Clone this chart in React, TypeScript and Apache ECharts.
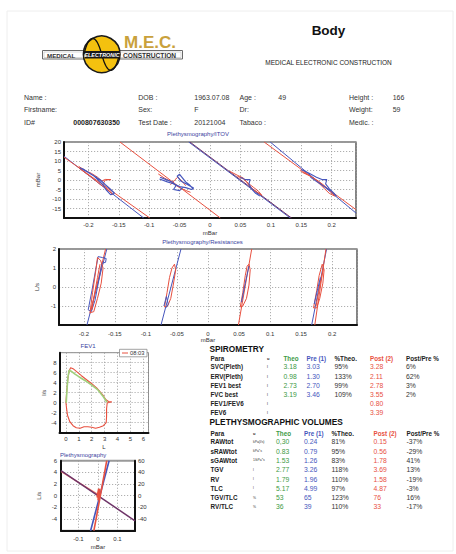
import React, { useEffect, useRef } from 'react';
import * as echarts from 'echarts';

const FONT = '"Liberation Sans", Arial, Helvetica, sans-serif';
const BLUE = '#4656bd';
const RED = '#e8503f';
const GREEN = '#3c9a45';
const PURPLE = '#6e3468';
const INK = '#222';

// ---------- header info ----------
const infoRow1 = ['Name :', 'DOB :', '1963.07.08', 'Age :', '49', 'Height :', '166'];
const infoRow2 = ['Firstname:', 'Sex:', 'F', 'Dr:', '', 'Weight:', '59'];
const infoRow3 = ['ID#', 'Test Date :', '20121004', 'Tabaco :', '', 'Medic. :', ''];
const patientId = '000807630350';

// ---------- spirometry table ----------
const tableHeaders = ['Para', 'u', 'Theo', 'Pre (1)', '%Theo.', 'Post (2)', 'Post/Pre %'];
const spiroParams = ['SVC(Pleth)', 'ERV(Pleth)', 'FEV1 best', 'FVC best', 'FEV1/FEV6', 'FEV6'];
const spiroUnits = ['l', 'l', 'l', 'l', 'l', 'l'];
const spiroTheo = ['3.18', '0.98', '2.73', '3.19', '', ''];
const spiroPre = ['3.03', '1.30', '2.70', '3.46', '', ''];
const spiroPctTheo = ['95%', '133%', '99%', '109%', '', ''];
const spiroPost = ['3.28', '2.11', '2.78', '3.55', '0.80', '3.39'];
const spiroPostPre = ['6%', '62%', '3%', '2%', '', ''];

// ---------- plethysmographic volumes table ----------
const plethParams = ['RAWtot', 'sRAWtot', 'sGAWtot', 'TGV', 'RV', 'TLC', 'TGV/TLC', 'RV/TLC'];
const plethUnits = ['kPa(l/s)', 'kPa*s', '1/kPa*s', 'l', 'l', 'l', '%', '%'];
const plethTheo = ['0,30', '0.83', '1.53', '2.77', '1.79', '5.17', '53', '36'];
const plethPre = ['0.24', '0.79', '1.26', '3.26', '1.96', '4.99', '65', '39'];
const plethPctTheo = ['81%', '95%', '83%', '118%', '110%', '97%', '123%', '110%'];
const plethPost = ['0.15', '0.56', '1.78', '3.69', '1.58', '4.87', '76', '33'];
const plethPostPre = ['-37%', '-29%', '41%', '13%', '-19%', '-3%', '16%', '-17%'];

// ---------- Plethysmography/ITOV (mBar vs mBar) ----------
const itovBlueA = [[-0.24, 12.5], [-0.109, -20]];
const itovRedA = [[-0.24, 12], [-0.099, -20]];
const itovRedB = [[-0.148, 20], [0.017, -20]];
const itovBlueC = [[-0.035, 20], [0.132, -20]];
const itovRedC = [[-0.033, 20], [0.134, -20]];
const itovRedD = [[0.089, 20], [0.24, -15.6]];
const itovBlueD = [[0.099, 20], [0.24, -17.4]];
const itovLoop1Red = [[-0.216, 7.2], [-0.205, 5], [-0.195, 3.5], [-0.185, 1.5], [-0.178, -0.5], [-0.172, 0.3], [-0.163, 0.2], [-0.172, 0], [-0.176, -2], [-0.172, -4.5], [-0.165, -6], [-0.16, -7.5], [-0.168, -5], [-0.18, -2.5], [-0.195, 1.5], [-0.208, 4.5], [-0.216, 6.5]];
const itovLoop1Blue = [[-0.214, 6.5], [-0.2, 4], [-0.19, 2], [-0.182, -0.5], [-0.175, -3], [-0.17, -5.5], [-0.163, -7.8], [-0.157, -7], [-0.165, -4.5], [-0.172, -2.5], [-0.18, 0], [-0.195, 3], [-0.21, 6]];
const itovLoop2Blue = [[-0.083, 0.5], [-0.07, -1], [-0.06, -2], [-0.05, -3.5], [-0.04, -4], [-0.03, -5], [-0.027, -4.2], [-0.038, -2.2], [-0.048, -0.5], [-0.054, 2], [-0.05, 3], [-0.045, 1], [-0.04, -1], [-0.034, -2.5], [-0.028, -4.5]];
const itovLoop2BlueB = [[-0.082, 1.5], [-0.072, 0.2], [-0.062, -1], [-0.056, -3], [-0.06, -5], [-0.05, -5.6], [-0.045, -4]];
const itovLoop2Red = [[-0.085, 3.2], [-0.075, 1], [-0.066, -0.5], [-0.058, -2.5], [-0.05, -4], [-0.04, -5.5], [-0.032, -6.5]];
const itovLoop2RedB = [[-0.065, -2.5], [-0.058, 0], [-0.053, 1.5], [-0.045, -1], [-0.04, -3]];
const itovLoop3Red = [[0.033, 4.5], [0.045, 2.5], [0.055, 1], [0.06, -1], [0.065, -3], [0.07, -5], [0.078, -6.5], [0.085, -8], [0.08, -6], [0.072, -4], [0.064, -2], [0.055, 0.5], [0.045, 2]];
const itovLoop3Blue = [[0.05, 1.5], [0.058, 0.2], [0.066, 0.2], [0.064, -2], [0.068, -4.5], [0.075, -7], [0.082, -8.5]];
const itovLoop4Red = [[0.148, 5], [0.16, 3], [0.17, 1], [0.18, -2], [0.188, -4.5], [0.196, -7], [0.205, -8.5], [0.198, -6], [0.19, -3.5], [0.178, -0.5], [0.165, 2], [0.152, 4]];
const itovLoop4Blue = [[0.15, 5.5], [0.163, 3.5], [0.175, 1.5], [0.184, 0.2], [0.192, 0.2], [0.19, -2], [0.196, -4.5], [0.204, -7], [0.208, -8.6], [0.2, -6], [0.188, -3.5], [0.176, -1], [0.165, 1.5]];

// ---------- Plethysmography/Resistances (L/s vs mBar) ----------
const resBlue1 = [[-0.195, -2], [-0.163, 2]];
const resRed1 = [[-0.19, -1.4], [-0.165, 2]];
const resLoop1Blue = [[-0.193, -1.2], [-0.187, -0.2], [-0.181, 0.9], [-0.177, 1.6], [-0.17, 1.55], [-0.164, 1.5], [-0.165, 1.3], [-0.171, 1.25], [-0.175, 0.5], [-0.182, -0.7], [-0.188, -1.3], [-0.193, -1.2]];
const resLoop1Red = [[-0.19, -1.35], [-0.186, -0.3], [-0.181, 0.8], [-0.178, 1.55], [-0.173, 1.4], [-0.169, 1.0], [-0.172, 0.2], [-0.178, -0.6], [-0.184, -1.3], [-0.19, -1.35]];
const resLoop1RedB = [[-0.187, -1.2], [-0.183, -0.4], [-0.178, 0.5], [-0.174, 1.2]];
const resBlue2 = [[-0.0757, -2], [-0.0435, 2]];
const resLoop2Red = [[-0.07, -1.05], [-0.066, -0.3], [-0.062, 0.5], [-0.058, 1.0], [-0.054, 1.2], [-0.052, 0.9], [-0.056, 0.1], [-0.06, -0.6], [-0.065, -1.0], [-0.07, -1.05]];
const resLoop2Blue = [[-0.071, -1.0], [-0.067, -0.5], [-0.064, -0.9], [-0.068, -1.1]];
const resRed3 = [[0.049, -2], [0.0704, 2]];
const resLoop3Red = [[0.052, -1.05], [0.056, -0.3], [0.06, 0.6], [0.063, 1.1], [0.066, 1.2], [0.068, 0.9], [0.066, 0.1], [0.062, -0.6], [0.056, -1.0], [0.052, -1.05]];
const resLoop3Blue = [[0.054, -0.8], [0.06, 0.2], [0.066, 1.1]];
const resBlue4 = [[0.167, -2], [0.191, 2]];
const resRed4 = [[0.172, -2], [0.19, 2]];
const resLoop4Red = [[0.17, -1.1], [0.175, -0.2], [0.179, 0.6], [0.184, 1.2], [0.187, 0.9], [0.185, 0.2], [0.18, -0.6], [0.175, -1.1], [0.17, -1.1]];
const resLoop4RedB = [[0.174, -1], [0.178, -0.3], [0.182, 0.4], [0.186, 1.0]];
const resLoop4Blue = [[0.171, -0.9], [0.176, -0.2], [0.181, 0.5]];

// ---------- FEV1 flow-volume (l/s vs L) ----------
const fevLegend = '08:03';
const fevMeasured = [[0, 0], [0.05, 2], [0.15, 4.8], [0.25, 6.4], [0.36, 7.0], [0.55, 6.8], [0.83, 6.2], [1.2, 5.4], [1.6, 4.6], [2.0, 3.8], [2.4, 2.9], [2.9, 1.4], [3.1, 0.6], [3.3, 0.25], [3.55, 0.2], [3.4, 0.05], [3.2, 0], [3.15, -1.2], [3.15, -2.7], [3.12, -4.0], [2.9, -4.6], [2.6, -4.9], [2.3, -5.1], [2.0, -4.9], [1.7, -4.8], [1.4, -4.8], [1.1, -5.1], [0.8, -5.0], [0.55, -4.6], [0.3, -3.8], [0.12, -2.5], [0.05, -1.2], [0, 0]];
const fevPredicted = [[0.02, 0], [0.08, 2.5], [0.15, 5], [0.25, 6.5], [0.4, 6.3], [0.7, 5.7], [1.0, 5.2], [1.5, 4.4], [2.0, 3.5], [2.5, 2.5], [2.9, 1.2], [3.1, 0.4], [3.2, 0.1]];

// ---------- Plethysmography (L/s left, mBar right) ----------
const plBlue = [[-0.038, -6], [0.057, 6]];
const plRed = [[-0.021, -6], [0.045, 6]];
const plRedBlob = [[0.003, -0.8], [0.006, 1.2], [0.002, 0.5], [-0.002, -0.3], [0.008, 0.2]];
const plPurple = [[-0.19, 43], [0.19, -43]];
const plRedDiag = [[-0.19, 41.5], [0.005, 1]];

function txt(text: string, x: number, y: number, o: any = {}) {
  return {
    type: 'text', x, y, silent: true, z: o.z ?? 5,
    style: {
      text, fill: o.fill || INK, fontSize: o.size || 6.5,
      fontWeight: o.bold ? 'bold' : 'normal', fontStyle: o.italic ? 'italic' : 'normal',
      fontFamily: FONT, align: o.align || 'left', verticalAlign: 'middle',
    },
  };
}

function xAx(grid: number, min: number, max: number, split: number, name: string, gap: number, margin: number) {
  return {
    type: 'value', gridIndex: grid, min, max, splitNumber: split,
    name, nameLocation: 'middle', nameGap: gap,
    nameTextStyle: { fontSize: 6, color: '#333', fontFamily: FONT },
    axisLine: { show: true, onZero: false, lineStyle: { color: '#111', width: 2 } },
    axisTick: { show: false },
    axisLabel: { fontSize: 6, color: '#333', margin, showMinLabel: false, showMaxLabel: false, fontFamily: FONT },
    splitLine: { show: true, lineStyle: { type: [1.2, 1.8], color: '#9a9a9a', width: 0.8 } },
  };
}
function yAx(grid: number, min: number, max: number, split: number, name: string, gap: number, margin: number, showMax: boolean, pos = 'left') {
  return {
    type: 'value', gridIndex: grid, min, max, splitNumber: split, position: pos,
    name, nameLocation: 'middle', nameGap: gap, nameRotate: 90,
    nameTextStyle: { fontSize: 6, color: '#333', fontFamily: FONT },
    axisLine: { show: true, onZero: false, lineStyle: { color: '#111', width: 2 } },
    axisTick: { show: false },
    axisLabel: { fontSize: 6, color: '#333', margin, showMinLabel: false, showMaxLabel: showMax, fontFamily: FONT },
    splitLine: { show: pos === 'left', lineStyle: { type: [1.2, 1.8], color: '#9a9a9a', width: 0.8 } },
  };
}
function ln(data: number[][], color: string, xi: number, yi: number, width = 1, z = 3) {
  return {
    type: 'line', data, xAxisIndex: xi, yAxisIndex: yi, showSymbol: false, symbol: 'none',
    lineStyle: { color, width }, itemStyle: { color }, silent: true, z, clip: true,
  };
}

function buildGraphic() {
  const g: any[] = [];
  // faint page edge
  g.push({ type: 'rect', shape: { x: 7, y: 11, width: 446, height: 540 }, style: { fill: 'none', stroke: '#eeeeee', lineWidth: 1 }, silent: true });
  // logo
  g.push({ type: 'rect', shape: { x: 42.5, y: 50.5, width: 140, height: 8.5 }, style: { fill: '#fff', stroke: '#6a6a6a', lineWidth: 1 }, silent: true });
  g.push({ type: 'rect', shape: { x: 44, y: 52, width: 137, height: 5.5 }, style: { fill: 'none', stroke: '#b0b0b0', lineWidth: 0.5 }, silent: true });
  g.push(txt('MEDICAL', 47, 55, { size: 6.2, bold: true, fill: '#333' }));
  g.push(txt('CONSTRUCTION', 123, 55, { size: 6.6, bold: true, fill: '#333' }));
  g.push({ type: 'circle', shape: { cx: 101.7, cy: 54.3, r: 18.3 }, style: { fill: '#f4c10f', stroke: '#1a1a1a', lineWidth: 1.6 }, silent: true });
  g.push({ type: 'bezierCurve', shape: { x1: 84, y1: 54.3, cpx1: 89, cpy1: 33, cpx2: 96, cpy2: 33, x2: 101.7, y2: 54.3 }, style: { stroke: '#111', lineWidth: 1.3, fill: 'none' }, silent: true });
  g.push({ type: 'bezierCurve', shape: { x1: 101.7, y1: 54.3, cpx1: 107.4, cpy1: 75.6, cpx2: 114.4, cpy2: 75.6, x2: 119.4, y2: 54.3 }, style: { stroke: '#111', lineWidth: 1.3, fill: 'none' }, silent: true });
  g.push({ type: 'rect', shape: { x: 85, y: 51, width: 34, height: 7.5 }, style: { fill: '#1a1a1a' }, silent: true });
  g.push(txt('ELECTRONIC', 102, 54.9, { size: 5.4, bold: true, italic: true, fill: '#fff', align: 'center', z: 6 }));
  g.push(txt('M.E.C.', 124, 42.5, { size: 17, bold: true, fill: '#c9a13c' }));
  // title block
  g.push(txt('Body', 328.5, 30.7, { size: 13.5, bold: true, fill: '#111', align: 'center' }));
  g.push(txt('MEDICAL ELECTRONIC CONSTRUCTION', 328.5, 62.7, { size: 6.5, fill: '#222', align: 'center' }));
  // info rows
  const infoX = [24, 138.3, 194.3, 239.5, 278.3, 349, 392.7];
  const rowsY = [97.3, 109.8, 122.3];
  [infoRow1, infoRow2, infoRow3].forEach((row, ri) => {
    row.forEach((t, ci) => { if (t) g.push(txt(t, infoX[ci], rowsY[ri], { size: 7, fill: '#333' })); });
  });
  g.push(txt(patientId, 73.3, rowsY[2], { size: 7, bold: true, fill: '#222' }));
  // chart titles
  g.push(txt('Plethysmography/ITOV', 198, 134.3, { size: 6, fill: '#3b3fa0', align: 'center' }));
  g.push(txt('Plethysmography/Resistances', 202.5, 241.5, { size: 6, fill: '#3b3fa0', align: 'center' }));
  g.push(txt('FEV1', 88, 346, { size: 6, fill: '#3b3fa0', align: 'center' }));
  g.push(txt('Plethysmography', 60, 455, { size: 6, fill: '#3b3fa0' }));
  // FEV1 legend box
  g.push({ type: 'rect', z: 10, shape: { x: 119.5, y: 349.3, width: 27.5, height: 7.5 }, style: { fill: '#fff', stroke: '#8a8a8a', lineWidth: 0.8 }, silent: true });
  g.push({ type: 'line', z: 11, shape: { x1: 122, y1: 353, x2: 128, y2: 353 }, style: { stroke: RED, lineWidth: 1 }, silent: true });
  g.push(txt(fevLegend, 130, 353.2, { size: 5.8, fill: '#333', z: 11 }));

  // tables
  const hdrColors = [INK, INK, GREEN, BLUE, INK, RED, INK];
  const sCols = [210.5, 267, 283.5, 306.5, 334.5, 370, 406];
  g.push(txt('SPIROMETRY', 209.5, 348.8, { size: 8.3, bold: true, fill: '#111' }));
  tableHeaders.forEach((h, i) => g.push(txt(h, sCols[i], 358.6, { size: i === 1 ? 4 : 6.3, bold: true, fill: hdrColors[i] })));
  spiroParams.forEach((p, r) => {
    const y = 366.9 + r * 9.2;
    const cells = [p, spiroUnits[r], spiroTheo[r], spiroPre[r], spiroPctTheo[r], spiroPost[r], spiroPostPre[r]];
    cells.forEach((c, i) => {
      if (!c) return;
      g.push(txt(c, sCols[i], y, { size: i === 0 ? 6.3 : i === 1 ? 4 : 6.8, bold: i === 0, fill: hdrColors[i] === INK ? (i === 0 ? '#222' : '#333') : hdrColors[i] }));
    });
  });
  const pCols = [210.5, 253, 276, 304, 331.5, 373.5, 406.5];
  g.push(txt('PLETHYSMOGRAPHIC VOLUMES', 209.5, 422.4, { size: 8.3, bold: true, fill: '#111' }));
  tableHeaders.forEach((h, i) => g.push(txt(h, pCols[i], 433.2, { size: i === 1 ? 4 : 6.3, bold: true, fill: hdrColors[i] })));
  plethParams.forEach((p, r) => {
    const y = 441.8 + r * 9.3;
    const cells = [p, plethUnits[r], plethTheo[r], plethPre[r], plethPctTheo[r], plethPost[r], plethPostPre[r]];
    cells.forEach((c, i) => {
      if (!c) return;
      g.push(txt(c, pCols[i], y, { size: i === 0 ? 6.3 : i === 1 ? 3.4 : 6.8, bold: i === 0, fill: hdrColors[i] === INK ? (i === 0 ? '#222' : '#333') : hdrColors[i] }));
    });
  });
  return g;
}

function buildOption() {
  return {
    animation: false,
    backgroundColor: '#ffffff',
    textStyle: { fontFamily: FONT },
    grid: [
      { left: 64, top: 142, width: 292, height: 76, show: true, borderColor: '#333', borderWidth: 1.2, backgroundColor: '#fff' },
      { left: 59, top: 249, width: 298, height: 76, show: true, borderColor: '#333', borderWidth: 1.2, backgroundColor: '#fff' },
      { left: 59.5, top: 352.7, width: 89, height: 80, show: true, borderColor: '#8a8a8a', borderWidth: 1, backgroundColor: '#fff' },
      { left: 61, top: 460.7, width: 74, height: 70, show: true, borderColor: '#999', borderWidth: 2, backgroundColor: '#fff' },
    ],
    xAxis: [
      xAx(0, -0.24, 0.24, 10, 'mBar', 11.5, 4),
      xAx(1, -0.24, 0.24, 10, 'mBar', 12, 5.5),
      xAx(2, -0.5, 6.4, 7, 'L', 11, 3.5),
      xAx(3, -0.19, 0.19, 4, 'mBar', 13, 5),
    ],
    yAxis: [
      yAx(0, -20, 20, 8, 'mBar', 14, 3, true),
      yAx(1, -2, 2, 4, 'L/s', 10, 3, true),
      yAx(2, -6, 10, 8, 'l/s', 12, 3, false),
      yAx(3, -6, 6, 6, 'L/s', 19, 4, true),
      { ...yAx(3, -60, 60, 6, '', 0, 3, true, 'right') },
    ],
    series: [
      // ITOV
      ln(itovBlueA, BLUE, 0, 0), ln(itovRedA, RED, 0, 0), ln(itovRedB, RED, 0, 0),
      ln(itovBlueC, BLUE, 0, 0), ln(itovRedC, PURPLE, 0, 0),
      ln(itovRedD, RED, 0, 0), ln(itovBlueD, BLUE, 0, 0),
      ln(itovLoop1Red, RED, 0, 0), ln(itovLoop1Blue, BLUE, 0, 0, 1.2),
      ln(itovLoop2Red, RED, 0, 0), ln(itovLoop2RedB, RED, 0, 0), ln(itovLoop2Blue, BLUE, 0, 0, 1.2), ln(itovLoop2BlueB, BLUE, 0, 0, 1.1),
      ln(itovLoop3Red, RED, 0, 0), ln(itovLoop3Blue, BLUE, 0, 0, 1.1),
      ln(itovLoop4Red, RED, 0, 0), ln(itovLoop4Blue, BLUE, 0, 0, 1.1),
      // Resistances
      ln(resBlue1, BLUE, 1, 1), ln(resRed1, RED, 1, 1),
      ln(resLoop1Blue, BLUE, 1, 1), ln(resLoop1Red, RED, 1, 1), ln(resLoop1RedB, RED, 1, 1),
      ln(resBlue2, BLUE, 1, 1), ln(resLoop2Red, RED, 1, 1), ln(resLoop2Blue, BLUE, 1, 1),
      ln(resRed3, RED, 1, 1), ln(resLoop3Red, RED, 1, 1), ln(resLoop3Blue, BLUE, 1, 1),
      ln(resBlue4, BLUE, 1, 1), ln(resRed4, RED, 1, 1), ln(resLoop4Red, RED, 1, 1), ln(resLoop4RedB, RED, 1, 1), ln(resLoop4Blue, BLUE, 1, 1),
      // FEV1
      ln(fevMeasured, RED, 2, 2, 1.1), ln(fevPredicted, '#9fcf7a', 2, 2, 1.6, 4),
      // Plethysmography
      ln(plRedDiag, '#ef7a6a', 3, 4, 1.2), ln(plPurple, PURPLE, 3, 4, 1.5),
      ln(plBlue, BLUE, 3, 3, 1.6), ln(plRed, RED, 3, 3, 1.6), ln(plRedBlob, RED, 3, 3, 2.6, 5),
    ],
    graphic: { elements: buildGraphic() },
  };
}

export default function App() {
  const ref = useRef<HTMLDivElement>(null);
  useEffect(() => {
    if (!ref.current) return;
    const chart = echarts.init(ref.current, null, { renderer: 'svg' });
    chart.setOption(buildOption() as any);
    return () => chart.dispose();
  }, []);
  return <div ref={ref} style={{ position: 'absolute', left: 0, top: 0, width: 456, height: 554, background: '#fff' }} />;
}
